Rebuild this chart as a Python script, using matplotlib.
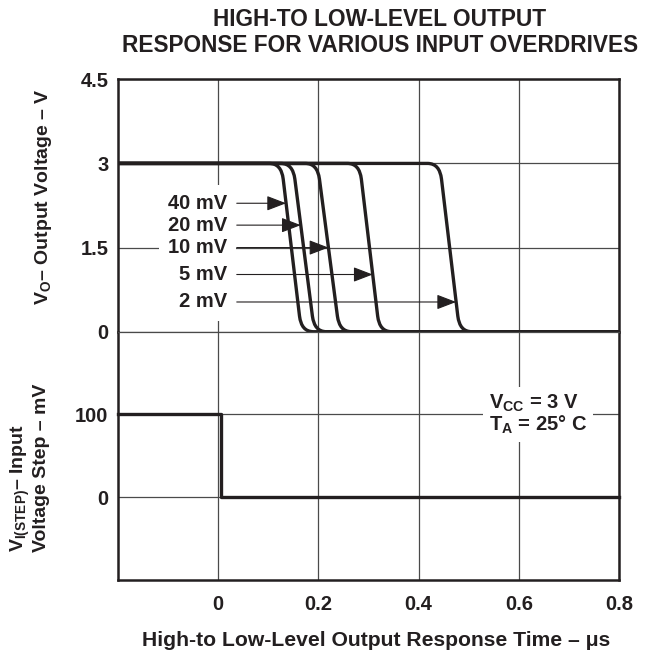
import matplotlib
matplotlib.use('Agg')
import matplotlib.pyplot as plt
from matplotlib.path import Path
from matplotlib.patches import PathPatch

plt.rcParams['font.family'] = ['Liberation Sans', 'DejaVu Sans']
plt.rcParams['font.weight'] = 'bold'
plt.rcParams['mathtext.fontset'] = 'custom'
plt.rcParams['mathtext.rm'] = 'Liberation Sans:bold'
plt.rcParams['mathtext.bf'] = 'Liberation Sans:bold'
plt.rcParams['mathtext.it'] = 'Liberation Sans:bold'

INK = '#231f20'
GRID = '#4a4a4a'

# 數據
x_min, x_max = -0.2, 0.8
x_ticks = [0, 0.2, 0.4, 0.6, 0.8]
x_tick_labels = ['0', '0.2', '0.4', '0.6', '0.8']
vo_ticks = [0, 1.5, 3, 4.5]
vo_tick_labels = ['0', '1.5', '3', '4.5']
vin_ticks = [0, 100]
vin_tick_labels = ['0', '100']

overdrive_labels = ['40 mV', '20 mV', '10 mV', '5 mV', '2 mV']
fall_start = [0.126, 0.149, 0.198, 0.282, 0.442]   # 離開 3 V 的時間 (us)
fall_end = [0.166, 0.192, 0.242, 0.322, 0.482]     # 到達 0 V 的時間 (us)
arrow_v = [2.29, 1.90, 1.5, 1.02, 0.53]            # 箭頭所在電壓
v_high, v_low = 3.0, 0.0

step_time = 0.005
step_high, step_low = 100, 0

FS = 14.5

# 版面
fig = plt.figure(figsize=(6.55, 6.53), dpi=100)
ax_out = fig.add_axes([0.1802, 0.492, 0.7648, 0.3866])
ax_in = fig.add_axes([0.1802, 0.1118, 0.7648, 0.3802])

for ax in (ax_out, ax_in):
    ax.set_xlim(x_min, x_max)
    ax.set_xticks(x_ticks)
    ax.grid(True, color=GRID, lw=0.9)
    ax.set_axisbelow(True)
    ax.tick_params(length=0, labelsize=FS, colors=INK)
    for s in ax.spines.values():
        s.set_linewidth(1.8)
        s.set_color(INK)

ax_out.set_ylim(0, 4.5)
ax_out.set_yticks(vo_ticks)
ax_out.set_yticklabels(vo_tick_labels)
ax_out.set_xticklabels([])
ax_out.spines['bottom'].set_visible(False)
ax_out.tick_params(axis='y', pad=7)

ax_in.set_ylim(-100, 200)
ax_in.set_yticks(vin_ticks)
ax_in.set_yticklabels(vin_tick_labels)
ax_in.set_xticklabels(x_tick_labels)
ax_in.spines['top'].set_linewidth(0.9)
ax_in.spines['top'].set_color(GRID)
ax_in.tick_params(axis='y', pad=7)
ax_in.tick_params(axis='x', pad=11)

# 輸出波形 (圓角的下降沿)
knee = 0.024
drop = 0.28
for ts, te in zip(fall_start, fall_end):
    f = drop / (v_high - v_low)
    verts = [(x_min, v_high), (ts - knee, v_high), (ts, v_high),
             (ts + f * (te - ts), v_high - drop),
             (te - f * (te - ts), v_low + drop), (te, v_low),
             (te + knee, v_low), (x_max, v_low)]
    codes = [Path.MOVETO, Path.LINETO, Path.CURVE3, Path.CURVE3,
             Path.LINETO, Path.CURVE3, Path.CURVE3, Path.LINETO]
    ax_out.add_patch(PathPatch(Path(verts, codes), fill=False, lw=2.4,
                               ec=INK, clip_on=False, zorder=4,
                               capstyle='butt', joinstyle='round'))

# 標籤與箭頭 (白底先畫, 文字後畫, 避免互相遮住)
label_x = 0.018
arrow_x0 = 0.037
for lab, v, ts, te in zip(overdrive_labels, arrow_v, fall_start, fall_end):
    tip = ts + (v_high - v) / (v_high - v_low) * (te - ts)
    ax_out.annotate('', xy=(tip, v), xytext=(arrow_x0, v),
                    arrowprops=dict(arrowstyle='-|>,head_length=0.6,head_width=0.23',
                                    mutation_scale=20, lw=0.8, color=INK,
                                    shrinkA=0, shrinkB=0), zorder=3)
    ax_out.text(label_x, v, lab, ha='right', va='center', fontsize=FS,
                color='white', zorder=2.5,
                bbox=dict(boxstyle='square,pad=0.45', fc='white', ec='none'))
    ax_out.text(label_x, v, lab, ha='right', va='center', fontsize=FS,
                color=INK, zorder=3)

# 輸入步階
ax_in.plot([x_min, step_time, x_max], [step_high, step_low, step_low],
           drawstyle='steps-post', lw=2.4, color=INK, clip_on=False, zorder=4)

ax_in.text(0.638, 100, '$\\mathbf{V_{CC}}$ = 3 V\n$\\mathbf{T_A}$ = 25° C',
           ha='center', va='center', multialignment='left', fontsize=FS,
           color=INK, zorder=3, linespacing=1.0,
           bbox=dict(boxstyle='square,pad=0.3', fc='white', ec='none'))

# 標題與軸標籤
fig.text(380 / 655, 1 - 8 / 653,
         'HIGH-TO LOW-LEVEL OUTPUT\nRESPONSE FOR VARIOUS INPUT OVERDRIVES',
         ha='center', va='top', fontsize=16.3, color=INK, linespacing=1.15)
fig.text(376 / 655, 1 - 641 / 653,
         'High-to Low-Level Output Response Time – μs',
         ha='center', va='center', fontsize=15.2, color=INK)
fig.text(44 / 655, 1 - 197 / 653, '$\\mathbf{V_O}$– Output Voltage – V',
         rotation=90, ha='center', va='center', fontsize=14, color=INK)
fig.text(9 / 655, 1 - 552 / 653, '$\\mathbf{V_{I(STEP)}}$– Input',
         rotation=90, ha='left', va='bottom', fontsize=14, color=INK)
fig.text(33 / 655, 1 - 552 / 653, 'Voltage Step – mV',
         rotation=90, ha='left', va='bottom', fontsize=14, color=INK)

fig.savefig('out.png', dpi=100)
